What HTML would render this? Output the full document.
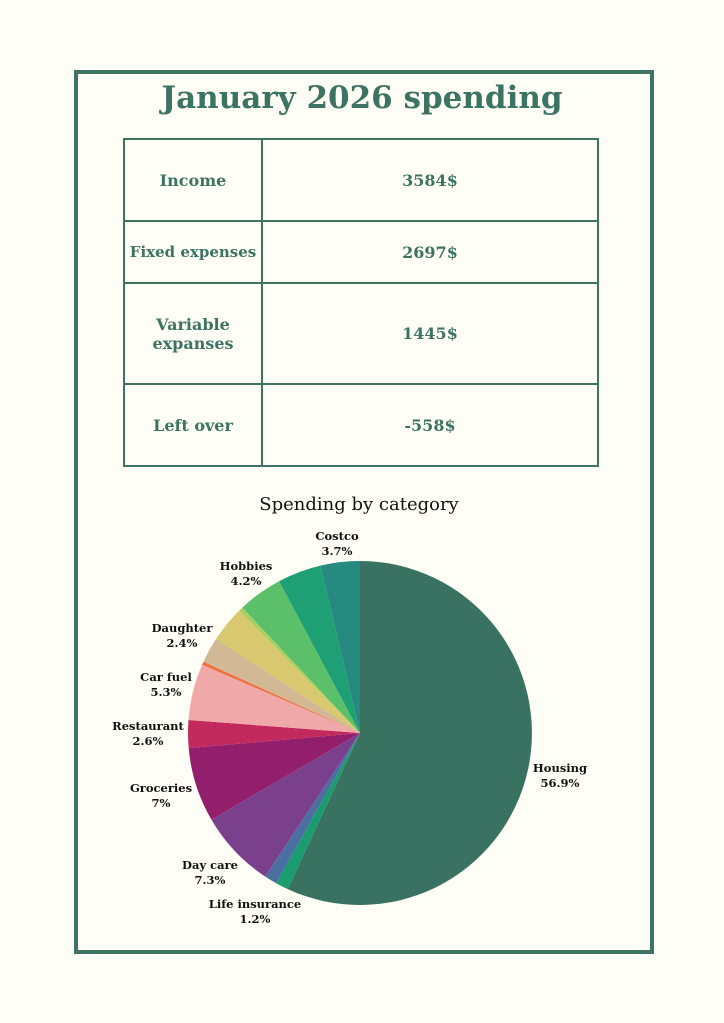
<!DOCTYPE html>
<html><head><meta charset="utf-8"><style>
body{margin:0;background:#fefdf6;}
.wrap{position:relative;width:724px;height:1023px;background:#fefdf6;font-family:"DejaVu Serif","Liberation Serif",serif;}
.frame{position:absolute;left:74px;top:70px;width:572px;height:876px;border:4px solid #3d7363;}
.title{position:absolute;left:0;width:724px;top:80px;text-align:center;color:#3d7363;font-size:31px;font-weight:bold;}
table{position:absolute;left:123px;top:138px;width:476px;height:327px;border-collapse:collapse;color:#3d7363;font-size:16px;font-weight:bold;}
td{border:2.5px solid #3d7363;text-align:center;padding:0;}
.lbl{position:absolute;font-size:11.5px;font-weight:bold;text-align:center;color:#111;line-height:15px;white-space:nowrap;transform:translateX(-50%);}
</style></head><body><div class="wrap">
<div class="frame"></div>
<div class="title">January 2026 spending</div>
<table>
<tr style="height:82px"><td style="width:136px">Income</td><td>3584$</td></tr>
<tr style="height:62px"><td style="font-size:15px">Fixed expenses</td><td>2697$</td></tr>
<tr style="height:101px"><td>Variable<br>expanses</td><td>1445$</td></tr>
<tr style="height:82px"><td>Left over</td><td>-558$</td></tr>
</table>
<div style="position:absolute;left:0;width:718px;top:494px;text-align:center;font-size:18px;color:#111;">Spending by category</div>
<svg style="position:absolute;left:0;top:0" width="724" height="1023">
<g stroke="none">
<path d="M360,733 L360,561 A172,172 0 1 1 287.7,889.1Z" fill="#3a7262"/>
<path d="M360,733 L287.7,889.1 A172,172 0 0 1 276.2,883.2Z" fill="#1a9c6e"/>
<path d="M360,733 L276.2,883.2 A172,172 0 0 1 265.1,876.5Z" fill="#4a6fa0"/>
<path d="M360,733 L265.1,876.5 A172,172 0 0 1 211.4,819.6Z" fill="#7b408c"/>
<path d="M360,733 L211.4,819.6 A172,172 0 0 1 188.7,748.1Z" fill="#931e6c"/>
<path d="M360,733 L188.7,748.1 A172,172 0 0 1 188.5,720Z" fill="#c22a5e"/>
<path d="M360,733 L188.5,720 A172,172 0 0 1 202.1,664.7Z" fill="#f0a8a8"/>
<path d="M360,733 L202.1,664.7 A172,172 0 0 1 203.5,661.7Z" fill="#f07040"/>
<path d="M360,733 L203.5,661.7 A172,172 0 0 1 216,639Z" fill="#d3b896"/>
<path d="M360,733 L216,639 A172,172 0 0 1 239.1,610.7Z" fill="#d8c870"/>
<path d="M360,733 L239.1,610.7 A172,172 0 0 1 242.3,607.6Z" fill="#a8d060"/>
<path d="M360,733 L242.3,607.6 A172,172 0 0 1 279.1,581.2Z" fill="#5cbf6a"/>
<path d="M360,733 L279.1,581.2 A172,172 0 0 1 320.4,565.6Z" fill="#1fa074"/>
<path d="M360,733 L320.4,565.6 A172,172 0 0 1 360,561Z" fill="#268a80"/>
</g></svg>
<div class="lbl" style="left:337px;top:529px">Costco<br>3.7%</div>
<div class="lbl" style="left:246px;top:559px">Hobbies<br>4.2%</div>
<div class="lbl" style="left:182px;top:621px">Daughter<br>2.4%</div>
<div class="lbl" style="left:166px;top:670px">Car fuel<br>5.3%</div>
<div class="lbl" style="left:148px;top:719px">Restaurant<br>2.6%</div>
<div class="lbl" style="left:161px;top:781px">Groceries<br>7%</div>
<div class="lbl" style="left:210px;top:858px">Day care<br>7.3%</div>
<div class="lbl" style="left:255px;top:897px">Life insurance<br>1.2%</div>
<div class="lbl" style="left:560px;top:761px">Housing<br>56.9%</div>
</div></body></html>
